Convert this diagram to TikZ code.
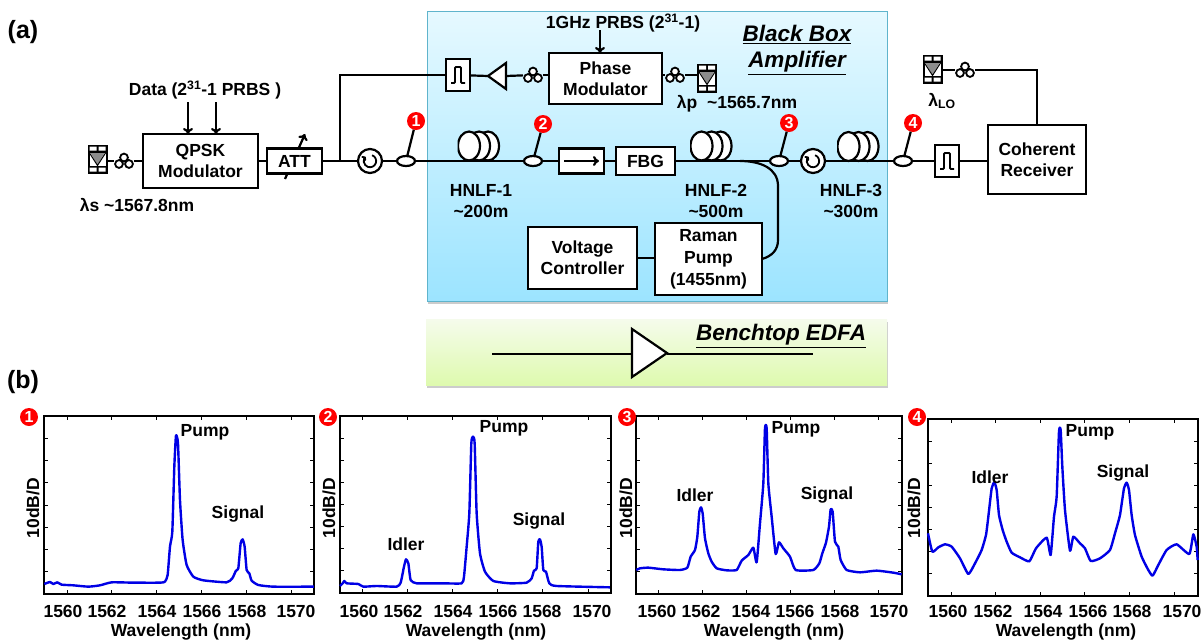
\documentclass[tikz,border=0pt]{standalone}
\usepackage{fontspec}
\setmainfont{Liberation Sans}
\usetikzlibrary{arrows.meta,shapes,positioning,shadows}
\definecolor{boxtop}{HTML}{E6F9FF}
\definecolor{boxbottom}{HTML}{9CE4FF}
\definecolor{boxline}{HTML}{5FB4CC}
\definecolor{edfatop}{HTML}{F5FBEC}
\definecolor{edfabottom}{HTML}{DEFAAE}

\begin{document}
\begin{tikzpicture}[x=1pt,y=-1pt,>={To[length=6pt,width=10pt]}]
  \tikzstyle{every node}=[inner sep=0pt, outer sep=0pt, align=center, font=\fontsize{17.5}{21}\selectfont\bfseries]
  \tikzstyle{fiber}=[line width=2.2pt]
  \tikzstyle{rectblock}=[rectangle, draw, fill=white, line width=2.2pt]
  \tikzstyle{tap}=[ellipse, draw, fill=white, line width=2.2pt, minimum width=18pt, minimum height=10pt]
  \tikzstyle{badge}=[circle, fill=red, text=white, minimum size=18pt, font=\fontsize{16}{16}\selectfont\bfseries]
  \tikzstyle{title}=[font=\fontsize{22.5}{26}\selectfont\bfseries\itshape]
  \tikzstyle{panel}=[font=\fontsize{25}{25}\selectfont\bfseries]
  \tikzstyle{box shadow}=[drop shadow={shadow xshift=0.5pt, shadow yshift=-2.5pt, opacity=0.4}]
  \tikzstyle{laser}=[rectangle, fill=black, minimum width=20pt, minimum height=29pt,
    path picture={\begin{scope}[shift={(path picture bounding box.center)}]
      \fill[white] (-8,-12.5) rectangle (-1,-8.5) (1,-12.5) rectangle (8,-8.5);
      \fill[white] (-8,8.5) rectangle (-1,12.5) (1,8.5) rectangle (8,12.5);
      \fill[white] (-8,-6.5) rectangle (8,6.5);
      \fill[black!45] (-7,-6) -- (7,-6) -- (0,6) -- cycle;
      \draw[line width=1pt] (-8,-6) -- (0,6.5) -- (8,-6);
    \end{scope}}]
  \tikzstyle{pc}=[rectangle, minimum width=20pt, minimum height=17pt,
    path picture={\begin{scope}[shift={(path picture bounding box.center)}]
      \draw[line width=1.8pt, fill=white] (-5,3) circle (3.9) (5,3) circle (3.9) (0,-3.5) circle (3.9);
    \end{scope}}]
  \tikzstyle{circulator}=[circle, draw, fill=white, line width=2.2pt, minimum size=24pt,
    path picture={\begin{scope}[shift={(path picture bounding box.center)}]
      \draw[line width=1.8pt, -{To[length=3.5pt,width=6pt]}] (2.1,-5.8) arc (-70:225:6.2);
    \end{scope}}]
  \tikzstyle{pulsefilter}=[rectangle, draw, fill=white, line width=2.2pt, minimum width=24pt, minimum height=32pt,
    path picture={\begin{scope}[shift={(path picture bounding box.center)}]
      \draw[line width=1.8pt, rounded corners=1pt] (-7,8) -- (-3,8) -- (-3,-8) -- (3,-8) -- (3,8) -- (7,8);
    \end{scope}}]
  \tikzstyle{coil}=[rectangle, minimum width=43pt, minimum height=32pt,
    path picture={\begin{scope}[shift={(path picture bounding box.center)}]
      \draw[line width=2.2pt, fill=white] (9,0) ellipse (11 and 14.5);
      \draw[line width=2.2pt, fill=white] (0,0) ellipse (11 and 14.5);
      \draw[line width=2.2pt, fill=white] (-10,0) ellipse (11 and 14.5);
    \end{scope}}]
  \tikzstyle{spectrum}=[draw=blue!90!black, line width=2.4pt, line join=round]

  \useasboundingbox (0,0) rectangle (1201,641);

  \node[rectangle, draw=boxline, line width=1pt, top color=boxtop, bottom color=boxbottom, box shadow,
        minimum width=460pt, minimum height=290pt] (Black Box) at (657,156) {};
  \node[rectangle, top color=edfatop, bottom color=edfabottom, box shadow,
        minimum width=461pt, minimum height=66pt] (Benchtop Box) at (656.5,352) {};
  \node[panel] (Panel A) at (23,32) {(a)};
  \node[panel] (Panel B) at (23,382) {(b)};
  \node[title] (Black Box Title) at (797,50) {\underline{Black Box}\\\underline{Amplifier}};
  \node[title] (Benchtop Title) at (781,336) {\underline{Benchtop EDFA}};

  \coordinate (Att Low) at (285,179);
  \coordinate (Att High) at (305,134);
  \draw [->,fiber] (Att Low) -- (Att High);

  \node[laser] (Signal Laser) at (97.5,159) {};
  \node[pc] (Signal PC) at (124,161) {};
  \node[rectblock, minimum width=115pt, minimum height=54pt] (QPSK Modulator) at (200.5,161) {QPSK\\Modulator};
  \node[rectblock, right=9pt of QPSK Modulator, minimum width=55pt, minimum height=25pt] (ATT) {ATT};
  \node[circulator, right=36pt of ATT] (Circulator One) {};
  \node[tap, right=15pt of Circulator One] (Tap One) {};
  \node[tap, right=109pt of Tap One] (Tap Two) {};
  \node[rectblock, right=17pt of Tap Two, minimum width=45pt, minimum height=25pt] (Isolator) {};
  \node[rectblock, right=12pt of Isolator, minimum width=59pt, minimum height=28pt] (FBG) {FBG};
  \node[tap, right=95pt of FBG] (Tap Three) {};
  \node[circulator, right=13pt of Tap Three] (Circulator Two) {};
  \node[tap, right=69pt of Circulator Two] (Tap Four) {};
  \node[pulsefilter, right=23pt of Tap Four] (Output Filter) {};
  \node[rectblock, right=29pt of Output Filter, yshift=1.5pt, minimum width=98pt, minimum height=69pt] (Coherent Receiver) {Coherent\\Receiver};

  \node[pulsefilter] (Pump Filter) at (458,75) {};
  \node[isosceles triangle, isosceles triangle stretches, shape border rotate=180, draw, fill=white, line width=2.2pt,
        minimum width=26pt, minimum height=18pt, anchor=lower side] (Pump Amp) at (506,76) {};
  \node[pc] (Pump PC Left) at (533,75) {};
  \node[rectblock, minimum width=113pt, minimum height=51pt] (Phase Modulator) at (605.5,78.5) {Phase\\Modulator};
  \node[pc] (Pump PC Right) at (675,75) {};
  \node[laser] (Pump Laser) at (707,78) {};

  \node[laser] (LO Laser) at (932.5,69) {};
  \node[pc] (LO PC) at (965,70) {};

  \node[rectblock, minimum width=109pt, minimum height=62pt] (Voltage Controller) at (582.5,258) {Voltage\\Controller};
  \node[rectblock, minimum width=107pt, minimum height=72pt, font=\fontsize{17.5}{22}\selectfont\bfseries] (Raman Pump) at (708.5,259) {Raman\\Pump\\(1455nm)};

  \node[badge] (Mark One) at (416,121) {1};
  \node[badge] (Mark Two) at (543,124) {2};
  \node[badge] (Mark Three) at (789,123) {3};
  \node[badge] (Mark Four) at (913,123) {4};

  \coordinate (Branch) at (340,161);
  \coordinate (Splice) at (740,161);
  \coordinate (Bend Low) at (778,240);
  \coordinate (Bend High) at (778,186);
  \coordinate (Data Left) at (188,102);
  \coordinate (Data Right) at (216,102);
  \coordinate (PRBS In) at (600,30);

  \draw [fiber] (Signal Laser.east |- Signal PC) -- (Signal PC);
  \draw [fiber] (Signal PC) -- (QPSK Modulator);
  \draw [fiber] (QPSK Modulator) -- (ATT);
  \draw [fiber] (ATT) -- (Circulator One);
  \draw [fiber] (Circulator One) -- (Tap One);
  \draw [fiber] (Tap One) -- (Tap Two);
  \draw [fiber] (Tap Two) -- (Isolator);
  \draw [fiber] (Isolator) -- (FBG);
  \draw [fiber] (FBG) -- (Tap Three);
  \draw [fiber] (Tap Three) -- (Circulator Two);
  \draw [fiber] (Circulator Two) -- (Tap Four);
  \draw [fiber] (Tap Four) -- (Output Filter);
  \draw [fiber] (Output Filter) -- (Output Filter -| Coherent Receiver.west);
  \draw [fiber] (Pump Filter) -| (Branch);
  \draw [fiber] (Pump Filter) -- (Pump Amp.apex);
  \draw [fiber] (Pump Amp.lower side) -- (Pump PC Left);
  \draw [fiber] (Pump PC Left) -- (Pump PC Left -| Phase Modulator.west);
  \draw [fiber] (Pump PC Right -| Phase Modulator.east) -- (Pump PC Right);
  \draw [fiber] (Pump PC Right) -- (Pump PC Right -| Pump Laser.west);
  \draw [fiber] (LO Laser.east |- LO PC) -- (LO PC);
  \draw [fiber] (LO PC) -| (Coherent Receiver);
  \draw [fiber] (Voltage Controller.east) -- (Voltage Controller.east -| Raman Pump.west);
  \draw [fiber] (Raman Pump.east) .. controls (772,256) and (778,250) .. (Bend Low) -- (Bend High)
                .. controls (778,168) and (760,161) .. (Splice);
  \draw [fiber] (Tap One) -- (Mark One);
  \draw [fiber] (Tap Two) -- (Mark Two);
  \draw [fiber] (Tap Three) -- (Mark Three);
  \draw [fiber] (Tap Four) -- (Mark Four);
  \draw [->,fiber] (Data Left) -- (Data Left |- QPSK Modulator.north);
  \draw [->,fiber] (Data Right) -- (Data Right |- QPSK Modulator.north);
  \draw [->,fiber] (PRBS In) -- (PRBS In |- Phase Modulator.north);
  \draw [->,fiber] ([xshift=5pt]Isolator.west) -- ([xshift=-5pt]Isolator.east);

  \node[coil] (HNLF One) at (479,146) {};
  \node[coil] (HNLF Two) at (711.5,146) {};
  \node[coil] (HNLF Three) at (858.5,146.5) {};

  \node[isosceles triangle, isosceles triangle stretches, draw, fill=white, line width=2.2pt,
        minimum width=48pt, minimum height=35pt, anchor=lower side] (EDFA) at (632,353) {};
  \coordinate (EDFA In) at (492,354);
  \coordinate (EDFA Out) at (813,354);
  \draw [fiber] (EDFA In) -- (EDFA In -| EDFA.lower side);
  \draw [fiber] (EDFA Out -| EDFA.apex) -- (EDFA Out);

  \node (Data Label) at (205,90) {Data (2\textsuperscript{31}-1 PRBS )};
  \node (PRBS Label) at (623,23) {1GHz PRBS (2\textsuperscript{31}-1)};
  \node (Signal Label) at (137,205) {λs \textasciitilde1567.8nm};
  \node (Pump Label) at (737,104) {λp \ \textasciitilde1565.7nm};
  \node (LO Label) at (942,101) {λ\textsubscript{LO}};
  \node (HNLF One Label) at (481,201) {HNLF-1\\\textasciitilde200m};
  \node (HNLF Two Label) at (716,201) {HNLF-2\\\textasciitilde500m};
  \node (HNLF Three Label) at (851,201) {HNLF-3\\\textasciitilde300m};

  \foreach \k/\xl/\xr/\yt/\yb/\xo/\xs/\xw/\xd/\xn in {
      1/44/314/416/594/67/44.8/181/33/{63,107,157,202,247,296},
      2/340/611/416/593/362/45.2/476/329/{359,403,453,498,542,592},
      3/636/902/416/594/658/44/774/626/{657,701,751,795,840,889},
      4/928/1198/419/596/951/44.6/1066/914/{948,993,1043,1088,1132,1182}} {
    \draw[line width=1.8pt] (\xl,\yt) rectangle (\xr,\yb);
    \foreach \i in {1,...,7} {
      \pgfmathsetmacro\ty{\yt+\i*(\yb-\yt)/8}
      \draw[line width=1pt] (\xl,\ty) -- +(4,0) (\xr,\ty) -- +(-4,0);
    }
    \foreach \v [count=\c from 0] in \xn {
      \pgfmathsetmacro\tx{\xo+\c*\xs}
      \pgfmathtruncatemacro\lab{1560+2*\c}
      \draw[line width=1pt] (\tx,\yt) -- +(0,4) (\tx,\yb) -- +(0,-4);
      \node (Tick \k-\c) at (\v,611) {\lab};
    }
    \node (Wavelength \k) at (\xw,632) {Wavelength (nm)};
    \node[rotate=90] (Scale \k) at (\xd,508) {10dB/D};
  }

  \node[badge] (Plot Mark One) at (29,417) {1};
  \node[badge] (Plot Mark Two) at (328,417) {2};
  \node[badge] (Plot Mark Three) at (627,417) {3};
  \node[badge] (Plot Mark Four) at (917,417) {4};

  \begin{scope}[shift={(0,400)},x=0.3333pt,y=-0.3333pt]
    \draw[spectrum] plot[smooth,tension=.3] coordinates {(133,552) (150,546) (160,552) (172,547) (185,554) (220,556) (265,560) (300,556) (335,547) (400,548) (480,548) (495,545) (503,525) (510,440) (517,395) (523,200) (528,107) (534,130) (540,300) (548,420) (560,495) (580,530) (610,541) (680,547) (697,535) (708,512) (715,505) (722,430) (728,418) (734,440) (740,510) (748,520) (755,542) (775,555) (820,560) (942,560)};
  \end{scope}
  \begin{scope}[shift={(310,400)},x=0.3333pt,y=-0.3333pt]
    \draw[spectrum] plot[smooth,tension=.3] coordinates {(90,558) (98,550) (103,543) (110,550) (145,552) (160,560) (200,558) (260,560) (272,548) (282,500) (288,478) (295,490) (302,540) (320,550) (400,550) (455,550) (462,530) (470,440) (478,340) (484,130) (489,110) (494,130) (500,340) (510,460) (525,515) (550,543) (600,550) (650,548) (665,535) (672,512) (680,505) (685,425) (690,418) (695,440) (700,510) (708,515) (718,550) (740,558) (900,562)};
  \end{scope}
  \begin{scope}[shift={(610,400)},x=0.3333pt,y=-0.3333pt]
    \draw[spectrum] plot[smooth,tension=.3] coordinates {(79,510) (90,505) (115,503) (160,508) (210,510) (232,503) (242,470) (255,450) (262,410) (268,335) (273,322) (278,340) (285,415) (295,460) (305,485) (320,505) (350,511) (380,510) (395,482) (415,465) (430,443) (440,487) (450,370) (460,250) (465,85) (470,85) (475,250) (485,350) (497,462) (507,427) (520,445) (540,470) (557,510) (610,510) (628,490) (637,460) (648,428) (657,380) (662,328) (668,335) (675,425) (685,440) (692,480) (710,510) (750,517) (800,512) (850,518) (875,523)};
  \end{scope}
  \begin{scope}[shift={(900,400)},x=0.3333pt,y=-0.3333pt]
    \draw[spectrum] plot[smooth,tension=.3] coordinates {(84,400) (97,455) (115,442) (135,433) (155,440) (180,475) (205,522) (225,490) (245,450) (258,405) (265,350) (275,265) (283,247) (290,270) (297,345) (308,390) (320,425) (335,458) (360,472) (388,484) (408,445) (440,413) (452,465) (462,350) (470,290) (477,95) (482,90) (487,200) (495,330) (510,452) (520,410) (540,430) (555,445) (572,483) (600,475) (630,450) (645,400) (660,345) (672,265) (680,248) (687,270) (695,345) (705,405) (725,470) (745,510) (758,527) (775,495) (800,450) (830,433) (868,462) (880,403) (890,440) (893,480)};
  \end{scope}

  \node (Pump One) at (205,432) {Pump};
  \node (Signal One) at (238,514) {Signal};
  \node (Idler Two) at (406,544) {Idler};
  \node (Pump Two) at (504,428) {Pump};
  \node (Signal Two) at (539,521) {Signal};
  \node (Idler Three) at (695,495) {Idler};
  \node (Pump Three) at (796,429) {Pump};
  \node (Signal Three) at (827,495) {Signal};
  \node (Idler Four) at (990,477) {Idler};
  \node (Pump Four) at (1090,432) {Pump};
  \node (Signal Four) at (1123,473) {Signal};
\end{tikzpicture}
\end{document}
